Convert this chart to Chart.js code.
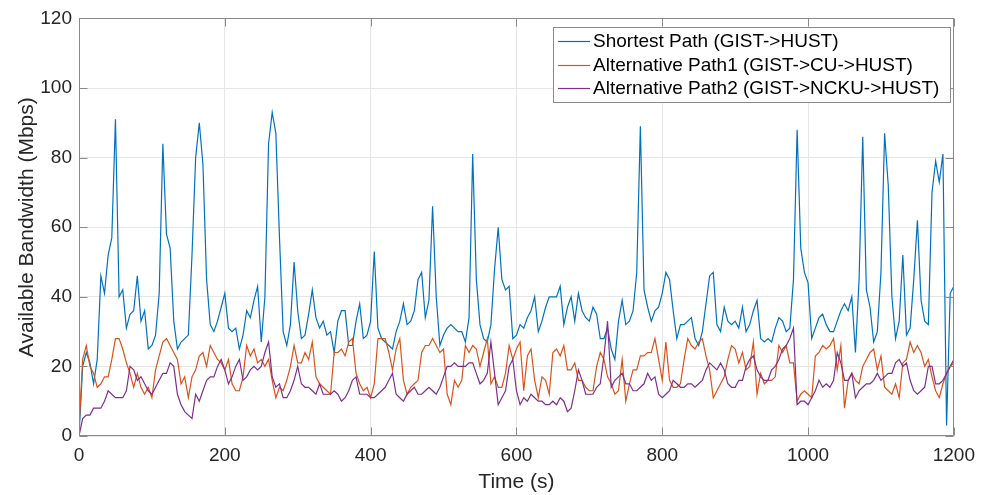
<!DOCTYPE html>
<html>
<head>
<meta charset="utf-8">
<title>Available Bandwidth</title>
<script src="https://cdn.jsdelivr.net/npm/chart.js@4/dist/chart.umd.min.js"></script>
<style>
  html, body { margin: 0; padding: 0; background: #ffffff; }
  canvas { display: block; }
</style>
</head>
<body>
<canvas id="bw" width="983" height="495"></canvas>
<script>
// Sampling interval of the measurements (seconds)
const SAMPLE_STEP_S = 5;

// Available bandwidth (Mbps), one value every SAMPLE_STEP_S seconds, rows of 100 s
const shortestPath = [
  0,20,24,21,15,22,46,41,52,57,91,40,42,31,35,36,46,33,36,25,
  26,29,41,84,58,54,33,25,27,28,29,52,80,90,78,45,32,30,33,37,
  41,31,30,31,25,29,36,34,39,43,27,40,84,93,87,57,30,26,32,50,
  36,28,29,35,42,34,31,33,29,30,24,33,36,36,26,26,33,38,28,29,
  33,53,31,28,27,26,25,30,33,38,32,33,36,45,47,34,39,66,40,26,
  29,31,32,31,30,30,27,34,81,45,32,28,27,32,48,60,45,42,43,28,
  29,32,31,34,36,40,30,33,37,40,40,40,43,32,37,40,33,41,36,34,
  33,37,35,28,28,31,25,22,33,39,32,33,36,47,89,42,37,33,36,37,
  41,47,45,36,28,32,32,33,34,28,26,30,38,46,47,32,30,37,33,32,
  33,31,37,30,32,36,39,28,27,28,27,31,34,33,30,31,45,88,54,47,
  44,28,31,34,35,32,30,30,33,36,38,36,40,24,45,86,42,37,27,30,
  47,87,72,40,28,33,52,29,31,45,62,39,33,32,70,79,73,81,3,41,
  43
];

const alternativePath1 = [
  2,22,26,20,18,14,15,17,17,22,28,28,25,21,18,14,18,14,12,14,
  11,19,23,27,28,26,24,22,15,17,11,17,19,23,24,20,26,24,22,21,
  19,22,15,13,13,17,26,23,25,21,22,20,22,16,11,14,13,16,20,26,
  21,21,24,22,27,17,15,14,13,12,24,24,25,23,27,28,18,15,13,14,
  11,15,28,28,28,24,19,25,28,16,12,14,15,16,24,26,26,28,26,24,
  25,12,9,16,14,16,26,24,26,25,20,24,28,15,17,14,14,18,26,22,
  25,27,13,23,25,16,11,17,16,12,24,25,23,26,19,19,21,16,16,14,
  13,13,20,24,22,17,15,12,13,22,10,15,19,19,23,23,24,24,28,22,
  16,27,16,14,14,15,22,28,26,25,27,28,23,19,11,13,15,17,22,26,
  25,21,24,19,20,27,12,18,15,16,16,17,26,24,26,21,21,10,12,13,
  12,11,23,24,26,25,26,28,19,26,8,16,18,16,15,20,22,24,25,19,
  23,14,13,12,15,11,21,22,27,24,26,24,20,22,17,13,11,15,18,20,
  21
];

const alternativePath2 = [
  0,5,6,6,8,8,8,10,13,12,11,11,11,13,20,19,16,17,15,13,
  12,14,16,18,18,21,20,12,9,7,6,5,12,10,13,16,17,17,20,22,
  19,15,17,20,22,16,17,19,20,19,20,24,27,17,14,15,11,11,13,16,
  20,15,14,14,13,12,15,12,12,12,13,12,10,11,13,16,17,12,12,12,
  11,11,12,13,14,16,18,12,11,10,12,13,14,12,12,13,14,13,12,14,
  17,20,20,21,20,20,20,21,21,18,15,16,18,27,18,9,11,13,20,22,
  13,9,11,10,12,11,10,10,9,9,10,9,11,10,7,8,13,19,16,12,
  12,12,14,15,23,33,14,16,17,18,15,15,13,13,14,15,18,16,17,12,
  11,12,13,16,15,14,14,15,15,14,15,16,19,21,20,19,21,19,15,14,
  14,16,16,20,22,23,19,17,16,16,19,20,22,25,26,28,31,9,10,10,
  9,11,13,16,14,15,14,16,24,21,16,16,18,11,13,14,15,15,16,18,
  16,17,18,18,21,22,20,21,16,13,12,13,14,20,20,15,15,16,18,20,
  22
];

const seriesLabels = [
  'Shortest Path (GIST->HUST)',
  'Alternative Path1 (GIST->CU->HUST)',
  'Alternative Path2 (GIST->NCKU->HUST)'
];
const seriesColors = ['#0072BD', '#D95319', '#7E2F8E'];

const X_MAX = 1200, X_STEP = 200;
const Y_MAX = 120, Y_STEP = 20;

const FONT = '"Liberation Sans", Arial, Helvetica, sans-serif';
const FRAME_COLOR = '#8a8a8a';
Chart.defaults.font.family = FONT;

// Pair each sample with its time stamp
const toPoints = values => values.map((v, i) => ({ x: i * SAMPLE_STEP_S, y: v }));

// Axes frame on all four sides with inward tick marks
const axesFrame = {
  id: 'axesFrame',
  afterDatasetsDraw(chart) {
    const { ctx, chartArea: a, scales } = chart;
    const L = Math.round(a.left) + 0.5, R = Math.round(a.right) - 0.5;
    const T = Math.round(a.top) + 0.5, B = Math.round(a.bottom) - 0.5;
    const len = 8;
    ctx.save();
    ctx.strokeStyle = FRAME_COLOR;
    ctx.lineWidth = 1;
    ctx.beginPath();
    ctx.rect(L, T, R - L, B - T);
    scales.x.ticks.forEach(t => {
      const px = Math.round(scales.x.getPixelForValue(t.value)) + 0.5;
      ctx.moveTo(px, B); ctx.lineTo(px, B - len);
      ctx.moveTo(px, T); ctx.lineTo(px, T + len);
    });
    scales.y.ticks.forEach(t => {
      const py = Math.round(scales.y.getPixelForValue(t.value)) + 0.5;
      ctx.moveTo(L, py); ctx.lineTo(L + len, py);
      ctx.moveTo(R, py); ctx.lineTo(R - len, py);
    });
    ctx.stroke();
    ctx.restore();
  }
};

// Boxed legend in the upper right of the plot
const boxedLegend = {
  id: 'boxedLegend',
  afterDraw(chart) {
    const { ctx } = chart;
    const box = { x: 553.5, y: 27.5, w: 397, h: 75 };
    const rowTop = 41, rowGap = 23.5;
    ctx.save();
    ctx.fillStyle = '#ffffff';
    ctx.fillRect(box.x, box.y, box.w, box.h);
    ctx.strokeStyle = FRAME_COLOR;
    ctx.lineWidth = 1;
    ctx.strokeRect(box.x, box.y, box.w, box.h);
    ctx.font = '19px ' + FONT;
    ctx.textBaseline = 'middle';
    ctx.textAlign = 'left';
    chart.data.datasets.forEach((ds, i) => {
      const yy = rowTop + i * rowGap;
      ctx.strokeStyle = ds.borderColor;
      ctx.lineWidth = 1.2;
      ctx.beginPath();
      ctx.moveTo(558, Math.round(yy) + 0.5);
      ctx.lineTo(590, Math.round(yy) + 0.5);
      ctx.stroke();
      ctx.fillStyle = '#000000';
      ctx.fillText(ds.label, 593, yy + 1);
    });
    ctx.restore();
  }
};

const series = [shortestPath, alternativePath1, alternativePath2];

new Chart(document.getElementById('bw'), {
  type: 'line',
  data: {
    datasets: series.map((vals, i) => ({
      label: seriesLabels[i],
      data: toPoints(vals),
      borderColor: seriesColors[i],
      backgroundColor: seriesColors[i],
      borderWidth: 1.2,
      pointRadius: 0,
      tension: 0,
      fill: false,
      order: series.length - i
    }))
  },
  options: {
    responsive: false,
    animation: false,
    events: [],
    layout: { padding: { left: 0, right: 28, top: 18, bottom: 0 } },
    plugins: {
      legend: { display: false },
      tooltip: { enabled: false }
    },
    scales: {
      x: {
        type: 'linear',
        min: 0,
        max: X_MAX,
        ticks: {
          stepSize: X_STEP, padding: 8, color: '#262626', font: { size: 19 }, maxRotation: 0,
          callback: v => String(v)
        },
        grid: { color: '#e6e6e6', drawTicks: false },
        border: { display: false },
        title: { display: true, text: 'Time (s)', color: '#262626', font: { size: 21 }, padding: 0 },
        afterFit(scale) { scale.height = 59; }
      },
      y: {
        type: 'linear',
        min: 0,
        max: Y_MAX,
        ticks: { stepSize: Y_STEP, padding: 7, color: '#262626', font: { size: 19 }, callback: v => String(v) },
        grid: { color: '#e6e6e6', drawTicks: false },
        border: { display: false },
        title: { display: true, text: 'Available Bandwidth (Mbps)', color: '#262626', font: { size: 21 }, padding: { top: 15, bottom: 0 } },
        afterFit(scale) { scale.width = 79; }
      }
    }
  },
  plugins: [axesFrame, boxedLegend]
});
</script>
</body>
</html>
